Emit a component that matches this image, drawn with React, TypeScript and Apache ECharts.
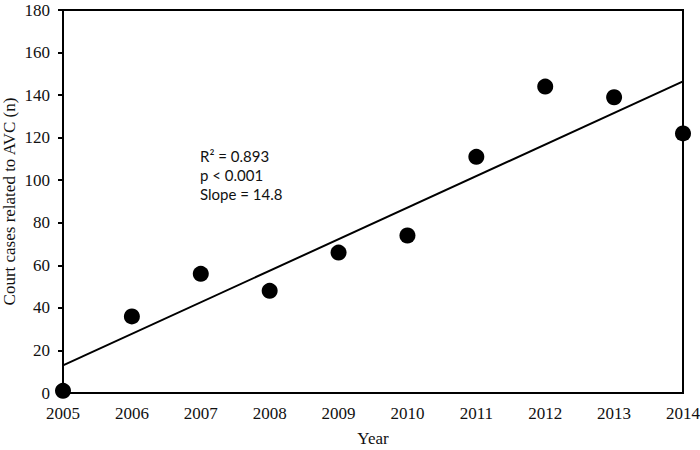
import React, { useEffect, useRef } from "react";
import * as echarts from "echarts";

const years = [2005, 2006, 2007, 2008, 2009, 2010, 2011, 2012, 2013, 2014];
const cases = [1, 36, 56, 48, 66, 74, 111, 144, 139, 122];
const yTicks = [0, 20, 40, 60, 80, 100, 120, 140, 160, 180];
const statsLines = ["R² = 0.893", "p < 0.001", "Slope = 14.8"];

function fitLine(xs: number[], ys: number[]) {
  const n = xs.length;
  const mx = xs.reduce((a, b) => a + b, 0) / n;
  const my = ys.reduce((a, b) => a + b, 0) / n;
  let sxy = 0;
  let sxx = 0;
  for (let i = 0; i < n; i++) {
    sxy += (xs[i] - mx) * (ys[i] - my);
    sxx += (xs[i] - mx) * (xs[i] - mx);
  }
  const slope = sxy / sxx;
  const icpt = my - slope * mx;
  const x0 = xs[0];
  const x1 = xs[n - 1];
  return [
    [x0, icpt + slope * x0],
    [x1, icpt + slope * x1],
  ];
}

export default function App() {
  const ref = useRef<HTMLDivElement>(null);
  useEffect(() => {
    document.body.style.margin = "0";
    const chart = echarts.init(ref.current!, null, { renderer: "svg" });
    const serif = "'Liberation Serif', 'Times New Roman', serif";
    chart.setOption({
      animation: false,
      backgroundColor: "#fff",
      grid: {
        left: 63,
        right: 17,
        top: 10,
        bottom: 57,
        show: true,
        borderColor: "#000",
        borderWidth: 2,
        containLabel: false,
        outerBoundsMode: "none",
      },
      xAxis: {
        type: "value",
        min: years[0],
        max: years[years.length - 1],
        interval: 1,
        name: "Year",
        nameLocation: "middle",
        nameGap: 37,
        nameMoveOverlap: false,
        nameTextStyle: { fontFamily: serif, fontSize: 17, color: "#111" },
        axisLine: { lineStyle: { color: "#000", width: 2 } },
        axisTick: { show: false },
        splitLine: { show: false },
        axisLabel: {
          formatter: (v: number) => String(v),
          fontFamily: serif,
          fontSize: 17,
          color: "#111",
          margin: 12,
        },
      },
      yAxis: {
        type: "value",
        min: yTicks[0],
        max: yTicks[yTicks.length - 1],
        interval: 20,
        name: "Court cases related to AVC (n)",
        nameLocation: "middle",
        nameGap: 45,
        nameMoveOverlap: false,
        nameTextStyle: { fontFamily: serif, fontSize: 17, color: "#111" },
        axisLine: { show: true, lineStyle: { color: "#000", width: 2 } },
        axisTick: { show: true, inside: false, length: 5, lineStyle: { color: "#000", width: 2 } },
        splitLine: { show: false },
        axisLabel: {
          fontFamily: serif,
          fontSize: 17,
          color: "#111",
          margin: 13,
        },
      },
      series: [
        {
          type: "line",
          data: fitLine(years, cases),
          symbol: "none",
          lineStyle: { color: "#000", width: 2 },
          z: 2,
        },
        {
          type: "scatter",
          data: years.map((y, i) => [y, cases[i]]),
          symbol: "circle",
          symbolSize: 16,
          itemStyle: { color: "#000", opacity: 1 },
          clip: false,
          z: 3,
        },
      ],
      graphic: statsLines.map((t, i) => ({
        type: "text",
        left: 200,
        top: 148 + i * 19,
        style: {
          text: t,
          fontFamily: "Lato, 'Open Sans', sans-serif",
          fontSize: 15,
          fill: "#111",
        },
      })),
    });
    return () => chart.dispose();
  }, []);
  return <div ref={ref} style={{ width: 700, height: 450 }} />;
}
